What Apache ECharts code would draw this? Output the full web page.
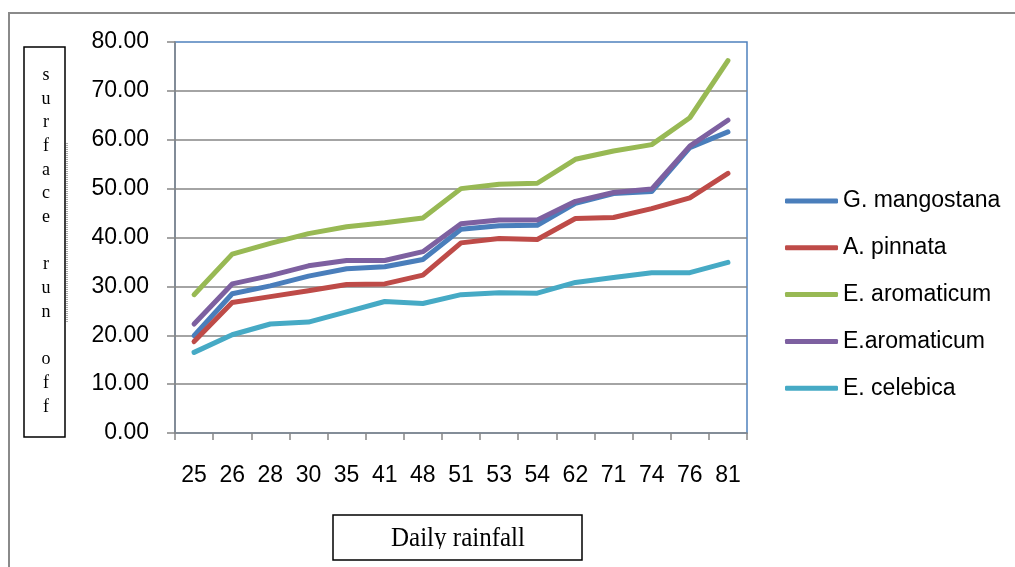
<!DOCTYPE html>
<html>
<head>
<meta charset="utf-8">
<script src="https://cdn.jsdelivr.net/npm/echarts@6/dist/echarts.min.js"></script>
<style>
  html, body { margin: 0; padding: 0; background: #ffffff; }
  #chart { width: 1015px; height: 567px; }
</style>
</head>
<body>
<div id="chart"></div>
<script>
// Daily rainfall categories (x axis)
const rainfall = ['25', '26', '28', '30', '35', '41', '48', '51', '53', '54', '62', '71', '74', '76', '81'];

// Surface run off per species
const gMangostana = [19.9, 28.5, 30.1, 32.1, 33.6, 34.0, 35.5, 41.7, 42.4, 42.5, 47.0, 49.0, 49.4, 58.4, 61.6];
const aPinnata    = [18.7, 26.7, 27.9, 29.1, 30.4, 30.5, 32.3, 38.9, 39.8, 39.6, 43.9, 44.1, 45.9, 48.1, 53.1];
const eAromaticum = [28.3, 36.6, 38.8, 40.8, 42.2, 43.0, 44.0, 50.0, 50.9, 51.1, 56.0, 57.7, 59.0, 64.5, 76.2];
const eAromaticum2 = [22.3, 30.5, 32.2, 34.2, 35.3, 35.3, 37.1, 42.8, 43.6, 43.6, 47.4, 49.2, 49.9, 58.7, 64.0];
const eCelebica   = [16.5, 20.1, 22.3, 22.7, 24.8, 26.9, 26.5, 28.3, 28.7, 28.6, 30.8, 31.8, 32.8, 32.8, 34.9];

const seriesNames = ['G. mangostana', 'A. pinnata', 'E. aromaticum', 'E.aromaticum', 'E. celebica'];
const seriesData = [gMangostana, aPinnata, eAromaticum, eAromaticum2, eCelebica];
const seriesColors = ['#4a7ebb', '#be4b48', '#98b954', '#7d60a0', '#46aac5'];

const yTicks = { min: 0, max: 80, interval: 10 };

const sans = "'Liberation Sans', Arial, sans-serif";
const serif = "'Liberation Serif', 'Times New Roman', serif";

const chart = echarts.init(document.getElementById('chart'), null, { renderer: 'canvas' });

const yTitleLetters = ['s', 'u', 'r', 'f', 'a', 'c', 'e', ' ', 'r', 'u', 'n', ' ', 'o', 'f', 'f'];

chart.setOption({
  animation: false,
  backgroundColor: '#ffffff',
  color: seriesColors,
  grid: {
    left: 175, top: 42, width: 572, height: 391,
    show: true,
    borderColor: '#4f81bd',
    borderWidth: 1.5,
    backgroundColor: 'transparent'
  },
  legend: {
    orient: 'vertical',
    left: 785,
    top: 189,
    padding: 0,
    itemWidth: 53,
    itemHeight: 5,
    itemGap: 22.8,
    icon: 'roundRect',
    data: seriesNames,
    textStyle: { fontFamily: sans, fontSize: 23, color: '#000000', lineHeight: 24 }
  },
  xAxis: {
    type: 'category',
    data: rainfall,
    boundaryGap: true,
    axisLine: { lineStyle: { color: '#868686', width: 1.5 } },
    axisTick: { show: true, length: 7, lineStyle: { color: '#868686', width: 1.5 } },
    axisLabel: { fontFamily: sans, fontSize: 23, color: '#000000', margin: 31 },
    splitLine: { show: false }
  },
  yAxis: {
    type: 'value',
    min: yTicks.min,
    max: yTicks.max,
    interval: yTicks.interval,
    axisLine: { show: true, lineStyle: { color: '#868686', width: 1.5 } },
    axisTick: { show: true, length: 8, lineStyle: { color: '#868686', width: 1.5 } },
    axisLabel: {
      fontFamily: sans, fontSize: 23, color: '#000000', margin: 26,
      formatter: v => v.toFixed(2)
    },
    splitLine: {
      show: true, showMinLine: false, showMaxLine: false,
      lineStyle: { color: '#868686', width: 1.5 }
    }
  },
  series: seriesNames.map((name, i) => ({
    name: name,
    type: 'line',
    data: seriesData[i],
    symbol: 'none',
    showSymbol: false,
    lineStyle: { width: 5, color: seriesColors[i], cap: 'round', join: 'round' },
    itemStyle: { color: seriesColors[i] }
  })),
  graphic: [
    // outer chart frame
    {
      type: 'rect', silent: true, z: 0,
      shape: { x: 9, y: 13, width: 1020, height: 600 },
      style: { fill: 'none', stroke: '#8a8a8a', lineWidth: 2 }
    },
    // y axis title box
    {
      type: 'rect', silent: true,
      shape: { x: 24, y: 47, width: 41, height: 390 },
      style: { fill: '#ffffff', stroke: '#000000', lineWidth: 1.5 }
    },
    {
      type: 'line', silent: true,
      shape: { x1: 67, y1: 143, x2: 67, y2: 323 },
      style: { stroke: '#555555', lineWidth: 1, lineDash: [1, 1] }
    },
    {
      type: 'text', silent: true,
      x: 46, y: 241,
      style: {
        text: yTitleLetters.join('\n'),
        font: '18px ' + serif,
        fill: '#000000',
        align: 'center',
        verticalAlign: 'middle',
        lineHeight: 23.7
      }
    },
    // x axis title box
    {
      type: 'rect', silent: true,
      shape: { x: 333, y: 515, width: 249, height: 45 },
      style: { fill: '#ffffff', stroke: '#000000', lineWidth: 1.5 }
    },
    {
      type: 'text', silent: true,
      x: 458, y: 539,
      scaleY: 1.12,
      style: {
        text: 'Daily rainfall',
        font: '25px ' + serif,
        fill: '#000000',
        align: 'center',
        verticalAlign: 'middle'
      }
    },
    {
      type: 'rect', silent: true,
      shape: { x: 334.5, y: 549, width: 246, height: 9.5 },
      style: { fill: '#ffffff' }
    }
  ]
});
</script>
</body>
</html>
